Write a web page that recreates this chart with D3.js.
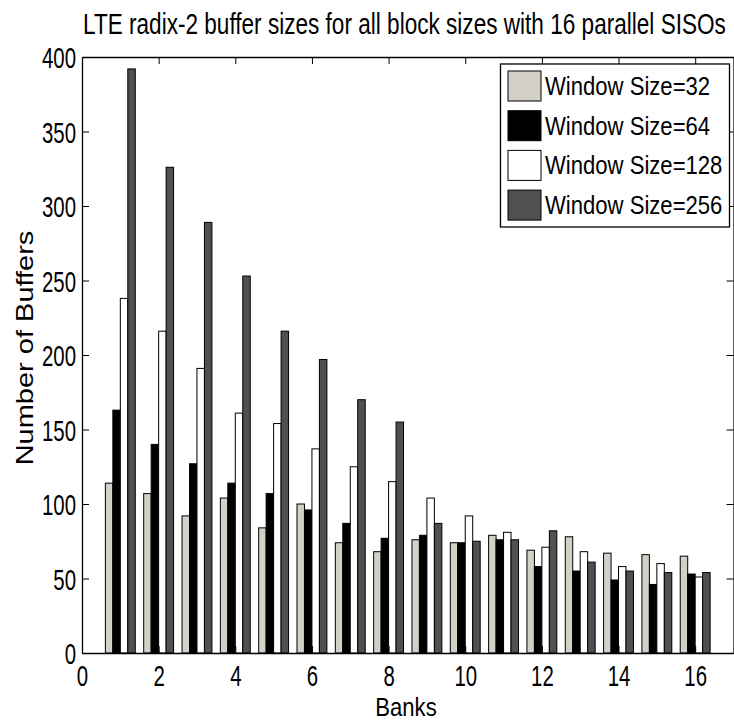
<!DOCTYPE html>
<html>
<head>
<meta charset="utf-8">
<script src="https://cdn.jsdelivr.net/npm/d3@7"></script>
<style>
  html, body { margin: 0; padding: 0; background: #fff; }
  svg { display: block; }
  text { font-family: "Liberation Sans", Arial, Helvetica, sans-serif; fill: #000; }
</style>
</head>
<body>
<svg id="chart" width="734" height="722"></svg>
<script>
// Buffer counts per bank for each window size
const banks = [1, 2, 3, 4, 5, 6, 7, 8, 9, 10, 11, 12, 13, 14, 15, 16];
const seriesNames = ["Window Size=32", "Window Size=64", "Window Size=128", "Window Size=256"];
const win32  = [114, 107, 92, 104, 84, 100, 74, 68, 76, 74, 79, 69, 78, 67, 66, 65];
const win64  = [163, 140, 127, 114, 107, 96, 87, 77, 79, 74, 76, 58, 55, 49, 46, 53];
const win128 = [238, 216, 191, 161, 154, 137, 125, 115, 104, 92, 81, 71, 68, 58, 60, 51];
const win256 = [392, 326, 289, 253, 216, 197, 170, 155, 87, 75, 76, 82, 61, 55, 54, 54];
const seriesFill = ["#d4d0c8", "#000000", "#ffffff", "#505050"];
const yTicks = [0, 50, 100, 150, 200, 250, 300, 350, 400];
const xTicks = [0, 2, 4, 6, 8, 10, 12, 14, 16];

const series = [win32, win64, win128, win256];

const svg = d3.select("#chart");
const plotL = 82, plotR = 733.5, plotT = 57, plotB = 653;

const x = d3.scaleLinear().domain([0, 17]).range([plotL, plotR]);
const y = d3.scaleLinear().domain([0, 400]).range([plotB, plotT]);

// horizontally condensed text
function squeeze(sel, k) {
  sel.each(function () {
    const t = d3.select(this);
    const xv = +(t.attr("x") || 0);
    t.attr("x", xv / k).attr("transform", `scale(${k},1)`);
  });
}

// bars: four adjacent bars centred on each bank
const barW = 0.195;
const g = svg.append("g");
series.forEach((vals, si) => {
  g.selectAll(null)
    .data(banks.map((b, i) => ({ b, v: vals[i] })))
    .join("rect")
    .attr("x", d => x(d.b + (si - 2) * barW))
    .attr("width", x(barW) - x(0))
    .attr("y", d => y(d.v))
    .attr("height", d => y(0) - y(d.v))
    .attr("fill", seriesFill[si])
    .attr("stroke", "#000")
    .attr("stroke-width", 1);
});

// axes with inward ticks on all four sides
const fontTick = 30, kTick = 0.68;
const axL = svg.append("g").attr("transform", `translate(${plotL},0)`)
  .call(d3.axisLeft(y).tickValues(yTicks).tickSizeInner(-7).tickSizeOuter(0).tickPadding(6));
const axB = svg.append("g").attr("transform", `translate(0,${plotB})`)
  .call(d3.axisBottom(x).tickValues(xTicks).tickSizeInner(-7).tickSizeOuter(0).tickPadding(12));
svg.append("g").attr("transform", `translate(0,${plotT})`)
  .call(d3.axisTop(x).tickValues(xTicks).tickSizeInner(-7).tickSizeOuter(0).tickFormat(""));
svg.append("g").attr("transform", `translate(${plotR},0)`)
  .call(d3.axisRight(y).tickValues(yTicks).tickSizeInner(-7).tickSizeOuter(0).tickFormat(""));

svg.selectAll(".domain").attr("stroke", "#000").attr("stroke-width", 1.3);
svg.selectAll(".tick line").attr("stroke", "#000").attr("stroke-width", 1);
[axL, axB].forEach(a => {
  a.selectAll("text").attr("font-size", fontTick).attr("font-family", null).attr("fill", "#000");
  squeeze(a.selectAll("text"), kTick);
});
axL.selectAll("text").attr("dy", "0.36em");

// title, condensed to span the plot width
const titleG = svg.append("g").attr("transform", "translate(83,34)");
const title = titleG.append("text")
  .attr("font-size", 30)
  .text("LTE radix-2 buffer sizes for all block sizes  with 16 parallel SISOs");
const natural = title.node().getComputedTextLength();
title.attr("transform", `scale(${643 / natural},1)`);

// axis titles
const bl = svg.append("text")
  .attr("x", 406).attr("y", 716)
  .attr("font-size", 26)
  .attr("text-anchor", "middle")
  .text("Banks");
squeeze(bl, 0.85);

svg.append("g").attr("transform", `translate(33,348) rotate(-90)`)
  .append("text")
  .attr("text-anchor", "middle")
  .attr("font-size", 29)
  .attr("transform", "scale(1,0.85)")
  .text("Number of Buffers");

// legend
const lg = svg.append("g");
lg.append("rect").attr("x", 500.5).attr("y", 64).attr("width", 229).attr("height", 163)
  .attr("fill", "#fff").attr("stroke", "#000").attr("stroke-width", 1.3);
seriesNames.forEach((name, i) => {
  const ry = 71 + i * 39.7;
  lg.append("rect").attr("x", 508).attr("y", ry).attr("width", 33).attr("height", 30)
    .attr("fill", seriesFill[i]).attr("stroke", "#000").attr("stroke-width", 1);
  const t = lg.append("text").attr("x", 545).attr("y", ry + 24).attr("font-size", 26).text(name);
  squeeze(t, 0.85);
});
</script>
</body>
</html>
